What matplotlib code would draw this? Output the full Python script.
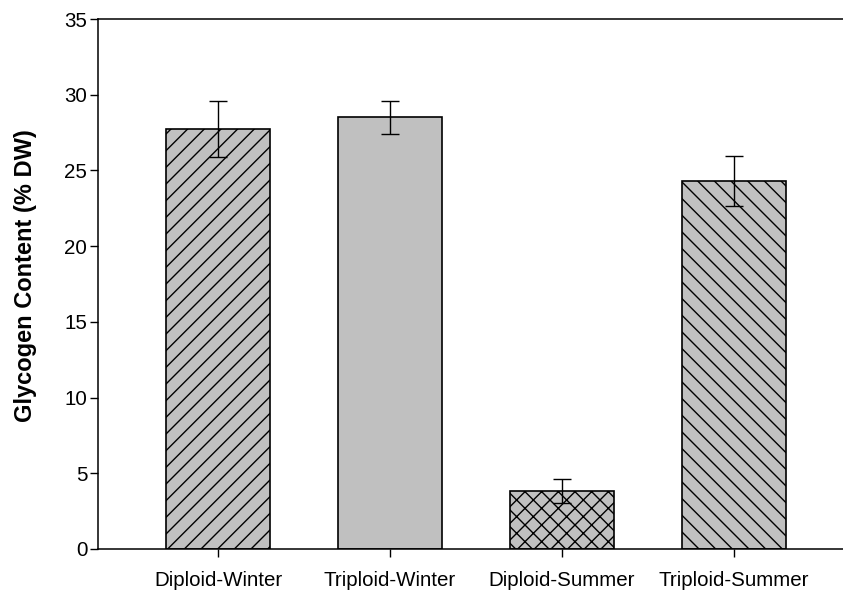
import matplotlib
matplotlib.use('Agg')
import matplotlib.pyplot as plt
import numpy as np

# values
groups = ['Diploid-Winter', 'Triploid-Winter', 'Diploid-Summer', 'Triploid-Summer']
glycogen = [27.75, 28.5, 3.85, 24.3]
sem = [1.85, 1.1, 0.8, 1.65]
hatches = ['//', '', 'xx', '\\\\']

plt.rcParams['font.family'] = ['Liberation Sans', 'DejaVu Sans']
plt.rcParams['hatch.linewidth'] = 1.0

fig = plt.figure(figsize=(8.43, 5.94), dpi=100)
ax = fig.add_axes([0.1159, 0.0758, 0.8841, 0.8922])

x = np.arange(len(groups))
bars = ax.bar(x, glycogen, width=0.605, color='#c0c0c0', edgecolor='black',
              linewidth=1.2, zorder=2)
for b, h in zip(bars, hatches):
    b.set_hatch(h)

ax.errorbar(x, glycogen, yerr=sem, fmt='none', ecolor='black', elinewidth=1.0,
            capsize=6.2, capthick=1.0, zorder=3)

ax.set_xlim(-0.70, 3.636)
ax.set_ylim(0, 35)
ax.set_yticks(np.arange(0, 36, 5))
ax.set_xticks(x)
ax.set_xticklabels(groups)

ax.spines['right'].set_visible(False)
for s in ['left', 'bottom', 'top']:
    ax.spines[s].set_linewidth(1.1)

ax.tick_params(axis='both', direction='out', length=5.5, width=1.0, labelsize=14.8)
ax.tick_params(axis='x', pad=10)
ax.tick_params(axis='y', pad=2)

ax.set_ylabel('Glycogen Content (% DW)', fontsize=17, fontweight='bold')
ax.yaxis.set_label_coords(-0.082, 0.515)

fig.savefig('out.png', dpi=100)
